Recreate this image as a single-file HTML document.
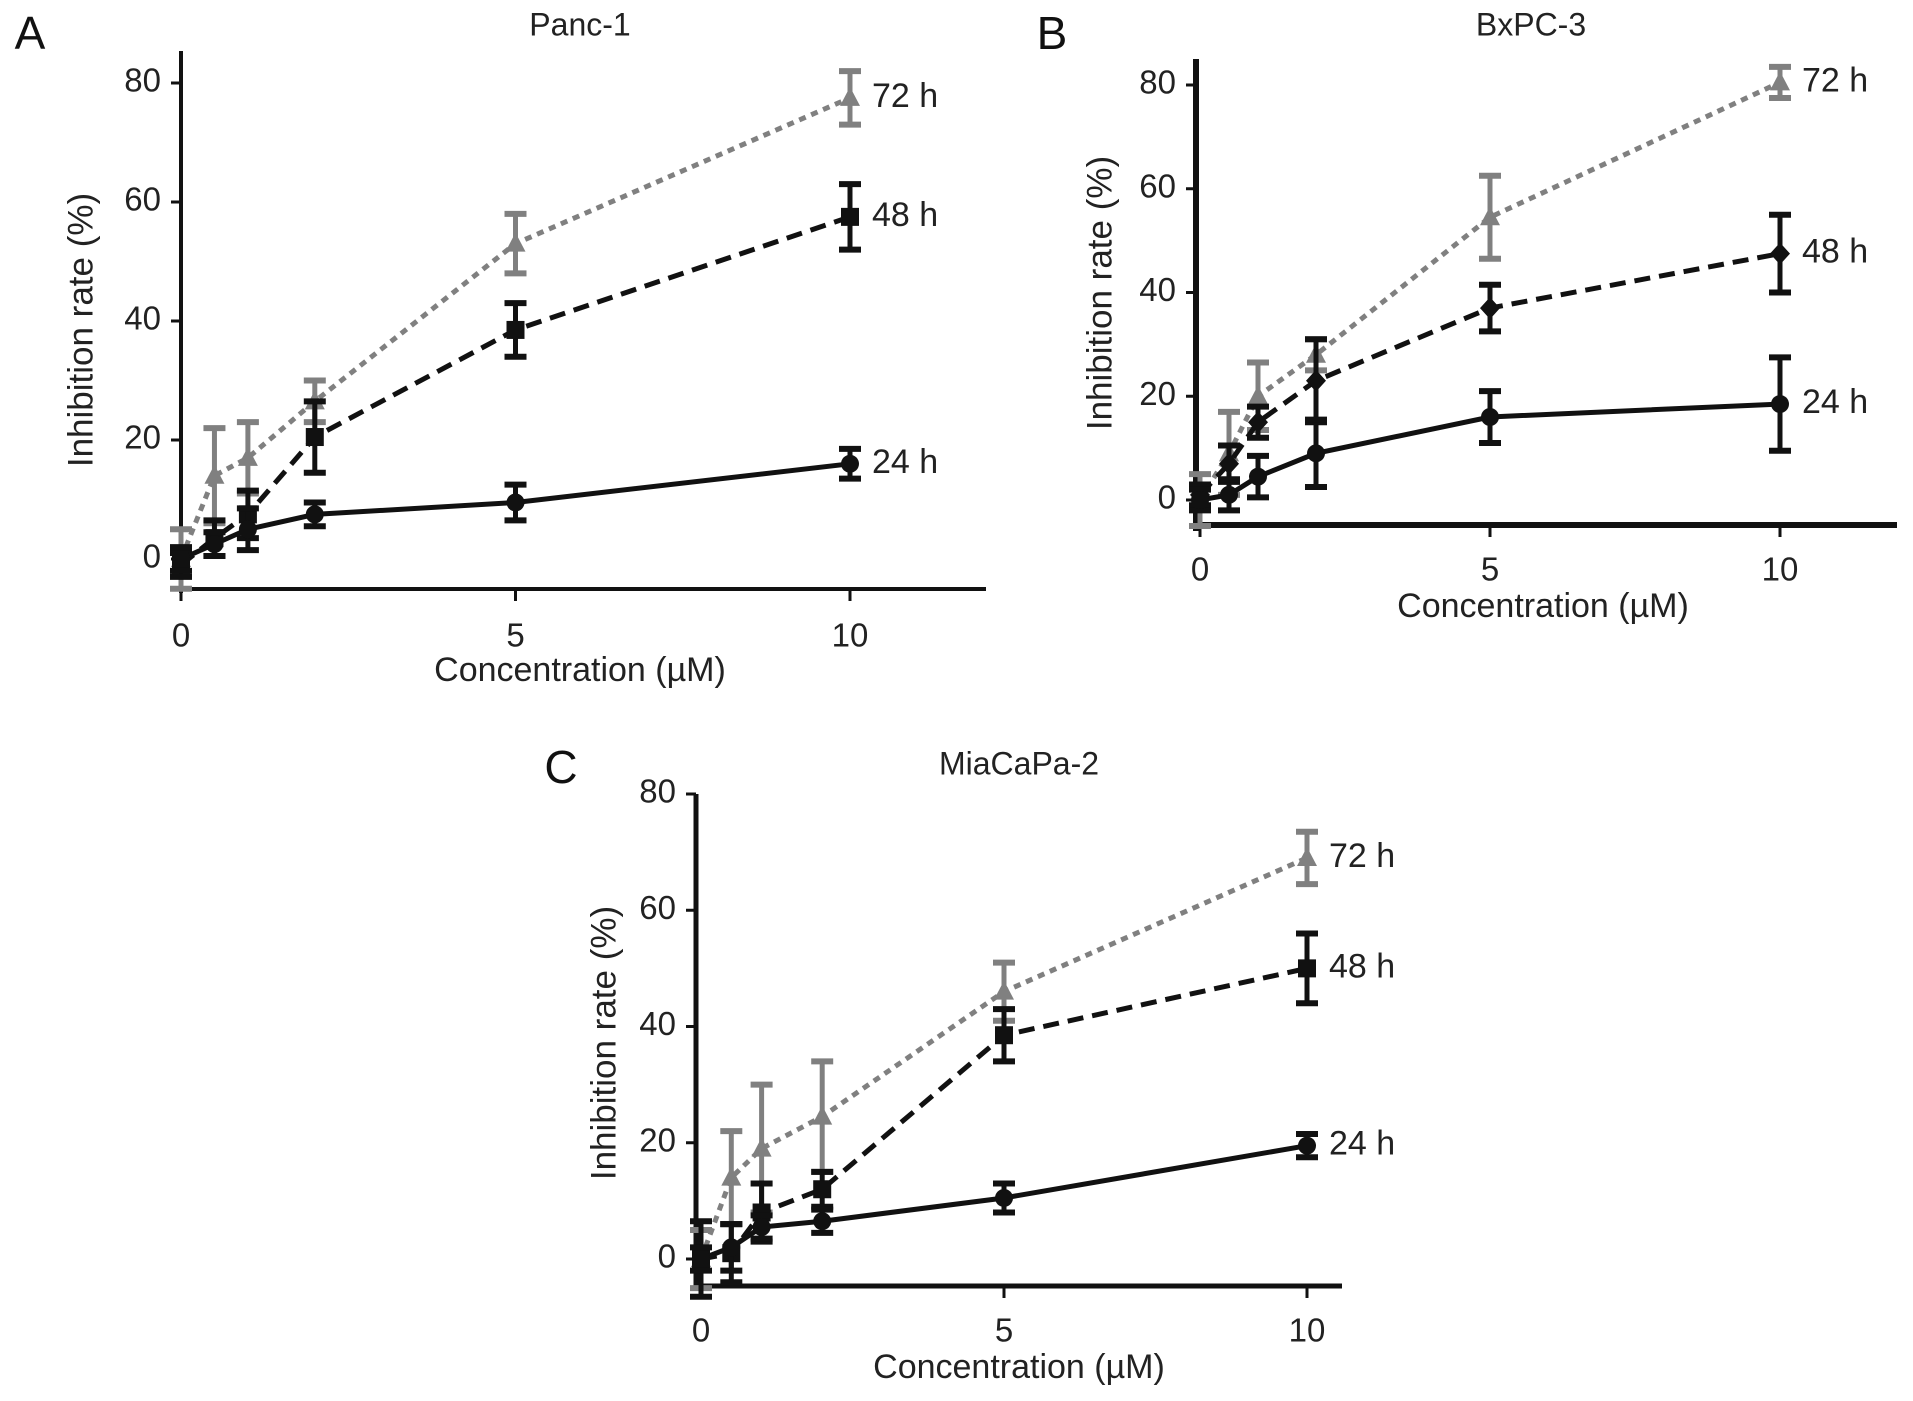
<!DOCTYPE html>
<html><head><meta charset="utf-8"><style>
html,body{margin:0;padding:0;background:#fff;}
svg{display:block;font-family:"Liberation Sans",Arial,sans-serif;}
</style></head><body>
<svg id="fig" width="1913" height="1401" viewBox="0 0 1913 1401" xmlns="http://www.w3.org/2000/svg"></svg>
<script>
const concentrations=[0,0.5,1,2,5,10];
const seriesNames=["24 h","48 h","72 h"];
const xTicks=[0,5,10];
const yTicks=[0,20,40,60,80];
const a24=[0,2.5,5,7.5,9.5,16];
const a24e=[2,2,3.5,2,3,2.5];
const a48=[-1,3.5,7.5,20.5,38.5,57.5];
const a48e=[2,3,4,6,4.5,5.5];
const a72=[0,14,17,26.5,53,77.5];
const a72e=[5,8,6,3.5,5,4.5];
const b24=[0,1,4.5,9,16,18.5];
const b24e=[2,3,4,6.5,5,9];
const b48=[1,7,15,23,37,47.5];
const b48e=[2,3.5,3,8,4.5,7.5];
const b72=[0,9,20,28,54.5,80.5];
const b72e=[5,8,6.5,3,8,3];
const c24=[0,2,5.5,6.5,10.5,19.5];
const c24e=[2,4,2,2,2.5,2];
const c48=[0,1,8,12,38.5,50];
const c48e=[6.5,5,5,3,4.5,6];
const c72=[0,14,19,24.5,46,69];
const c72e=[5,8,11,9.5,5,4.5];

const NS="http://www.w3.org/2000/svg";
const svg=document.getElementById('fig');
function mk(tag,attrs,parent,txt){const e=document.createElementNS(NS,tag);for(const k in attrs)e.setAttribute(k,attrs[k]);if(txt!==undefined)e.textContent=txt;(parent||svg).appendChild(e);return e;}

const panels=[
 {id:'a',letter:'A',title:'Panc-1',x0:181,x10:850,y0:559,y80:83,axX:181,axTop:51,axBot:589,axRight:986,tickY:638,xtY:672,xtX:580,ytX:83,ytY:330,titleX:580,titleY:27,lx:30,ly:37,aw:4,
  data:[[a24,a24e],[a48,a48e],[a72,a72e]],markers:['circle','square','triangle']},
 {id:'b',letter:'B',title:'BxPC-3',x0:1200,x10:1780,y0:500,y80:85,axX:1196,axTop:59,axBot:525,axRight:1897,tickY:572,xtY:608,xtX:1543,ytX:1102,ytY:293,titleX:1531,titleY:27,lx:1052,ly:37,aw:6,
  data:[[b24,b24e],[b48,b48e],[b72,b72e]],markers:['circle','diamond','triangle']},
 {id:'c',letter:'C',title:'MiaCaPa-2',x0:701,x10:1307,y0:1259,y80:794,axX:696,axTop:794,axBot:1286,axRight:1342,tickY:1333,xtY:1369,xtX:1019,ytX:606,ytY:1043,titleX:1019,titleY:766,lx:561,ly:771,aw:5,
  data:[[c24,c24e],[c48,c48e],[c72,c72e]],markers:['circle','square','triangle']}
];
const styles=[{c:'#111',dash:'none',w:5},{c:'#111',dash:'16 9',w:5},{c:'#808080',dash:'7 6',w:5}];

panels.forEach(p=>{
 const g=mk('g',{});
 
 
 const sx=v=>p.x0+(p.x10-p.x0)*v/10;
 const sy=v=>p.y0+(p.y80-p.y0)*v/80;
 const L=mk('text',{x:p.lx,y:p.ly,'font-size':46,'text-anchor':'middle','dominant-baseline':'middle',fill:'#111'},g,p.letter);
 
 const T=mk('text',{x:p.titleX,y:p.titleY,'font-size':32,'text-anchor':'middle','dominant-baseline':'middle',fill:'#222'},g,p.title);
 
 const ya=mk('line',{x1:p.axX,y1:p.axTop,x2:p.axX,y2:p.axBot+p.aw,stroke:'#111','stroke-width':p.aw},g);
 
 const xa=mk('line',{x1:p.axX-p.aw/2,y1:p.axBot,x2:p.axRight,y2:p.axBot,stroke:'#111','stroke-width':p.aw},g);
 
 yTicks.forEach(t=>{
  mk('line',{x1:p.axX-10,y1:sy(t),x2:p.axX,y2:sy(t),stroke:'#111','stroke-width':3},g);
  const tl=mk('text',{x:p.axX-20,y:sy(t),'font-size':33,'text-anchor':'end','dominant-baseline':'middle',fill:'#222'},g,String(t));
  
 });
 xTicks.forEach(t=>{
  mk('line',{x1:sx(t),y1:p.axBot,x2:sx(t),y2:p.axBot+12,stroke:'#111','stroke-width':3},g);
  const tl=mk('text',{x:sx(t),y:p.tickY,'font-size':33,'text-anchor':'middle','dominant-baseline':'middle',fill:'#222'},g,String(t));
  
 });
 const xt=mk('text',{x:p.xtX,y:p.xtY,'font-size':34,'text-anchor':'middle','dominant-baseline':'middle',fill:'#222'},g,'Concentration (\u00b5M)');
 
 const yt=mk('text',{x:p.ytX,y:p.ytY,'font-size':35,'text-anchor':'middle','dominant-baseline':'middle',fill:'#222',transform:`rotate(-90 ${p.ytX} ${p.ytY})`},g,'Inhibition rate (%)');
 
 [2,1,0].forEach(si=>{
  const vals=p.data[si][0],errs=p.data[si][1],st=styles[si];
  const sg=mk('g',{},g);
  
  
  const pts=concentrations.map((c,i)=>sx(c)+','+sy(vals[i])).join(' ');
  mk('polyline',{points:pts,fill:'none',stroke:st.c,'stroke-width':st.w,'stroke-dasharray':st.dash},sg);
  concentrations.forEach((c,i)=>{
   const x=sx(c),y=sy(vals[i]),yt1=sy(vals[i]+errs[i]),yb=sy(vals[i]-errs[i]);
   mk('line',{x1:x,y1:yt1,x2:x,y2:yb,stroke:st.c,'stroke-width':5},sg);
   mk('line',{x1:x-11,y1:yt1,x2:x+11,y2:yt1,stroke:st.c,'stroke-width':6},sg);
   mk('line',{x1:x-11,y1:yb,x2:x+11,y2:yb,stroke:st.c,'stroke-width':6},sg);
   const m=p.markers[si];let mEl;
   if(m==='circle')mEl=mk('circle',{cx:x,cy:y,r:9,fill:st.c},sg);
   else if(m==='square')mEl=mk('rect',{x:x-9,y:y-9,width:18,height:18,fill:st.c},sg);
   else if(m==='diamond')mEl=mk('polygon',{points:`${x},${y-11} ${x+10},${y} ${x},${y+11} ${x-10},${y}`,fill:st.c},sg);
   else mEl=mk('polygon',{points:`${x},${y-11} ${x+10},${y+8} ${x-10},${y+8}`,fill:st.c},sg);
   
   
  });
  const lab=mk('text',{x:sx(10)+22,y:sy(vals[5]),'font-size':34,'dominant-baseline':'middle',fill:'#222'},sg,seriesNames[si]);
  
  
 });
});
</script>
</body></html>
